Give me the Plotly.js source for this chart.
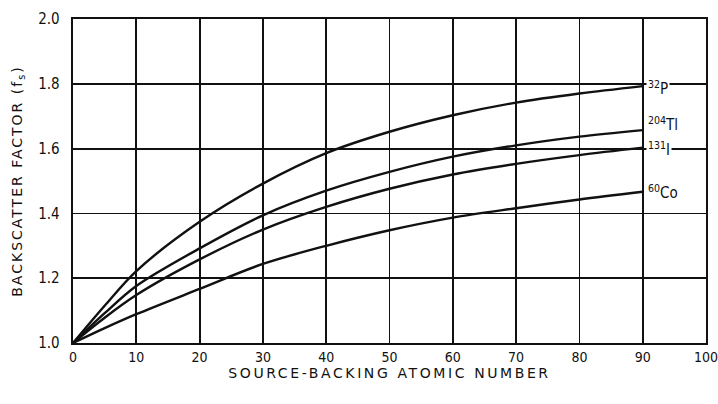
<!DOCTYPE html>
<html>
<head>
<meta charset="utf-8">
<script src="https://cdn.plot.ly/plotly-3.0.1.min.js"></script>
<style>
html,body{margin:0;padding:0;background:#fff;}
#chart{width:718px;height:404px;}
.xtitle{letter-spacing:2.6px;}
.ytitle{letter-spacing:2px;}
</style>
</head>
<body>
<div id="chart"></div>
<script>
// Source-backing atomic number
const atomicNumber = [0, 5, 10, 20, 30, 40, 50, 60, 70, 80, 90];
// Backscatter factor for each source
const p32   = [1.00, 1.115, 1.222, 1.374, 1.492, 1.586, 1.652, 1.703, 1.742, 1.770, 1.793];
const tl204 = [1.00, 1.092, 1.176, 1.292, 1.394, 1.470, 1.528, 1.575, 1.610, 1.637, 1.657];
const i131  = [1.00, 1.078, 1.148, 1.258, 1.350, 1.420, 1.476, 1.520, 1.553, 1.580, 1.603];
const co60  = [1.00, 1.046, 1.089, 1.167, 1.244, 1.300, 1.348, 1.387, 1.416, 1.443, 1.467];
const seriesNames = ["<sup>32</sup>P", "<sup>204</sup>Tl", "<sup>131</sup>I", "<sup>60</sup>Co"];
const xTicks = [0, 10, 20, 30, 40, 50, 60, 70, 80, 90, 100];
const yTicks = [1.0, 1.2, 1.4, 1.6, 1.8, 2.0];

const allSeries = [p32, tl204, i131, co60];
const lineStyle = {color: "#111", width: 2.4, shape: "spline", smoothing: 0.9};
const traces = allSeries.map((ys, i) => ({
  x: atomicNumber, y: ys, type: "scatter", mode: "lines",
  name: seriesNames[i], line: lineStyle, showlegend: false, hoverinfo: "skip"
}));

const labelYOffset = [-0.005, 0.02, -0.005, 0.0];
const annotations = allSeries.map((ys, i) => ({
  x: atomicNumber[atomicNumber.length - 1], y: ys[ys.length - 1] + labelYOffset[i],
  xref: "x", yref: "y", text: seriesNames[i], showarrow: false,
  xanchor: "left", yanchor: "middle", xshift: 3,
  bgcolor: "#fff", borderpad: 1,
  font: {family: "DejaVu Sans Condensed", size: 15, color: "#111"}
}));

const layout = {
  width: 718, height: 404,
  margin: {l: 73, r: 12, t: 19, b: 61},
  paper_bgcolor: "#fff", plot_bgcolor: "#fff",
  font: {family: "DejaVu Sans Condensed", color: "#111"},
  xaxis: {
    range: [0, 100], tickvals: xTicks, ticktext: xTicks.map(String),
    showgrid: true, gridcolor: "#111", gridwidth: 1.8,
    zeroline: false, showline: true, linecolor: "#111", linewidth: 2.4, mirror: true,
    ticks: "", ticklabeloverflow: "allow", ticklabelstandoff: 0,
    tickfont: {size: 14, color: "#111"},
    title: {text: "SOURCE-BACKING ATOMIC NUMBER", font: {family: "DejaVu Sans", size: 14, color: "#111"}, standoff: 0}
  },
  yaxis: {
    range: [1.0, 2.0], tickvals: yTicks, ticktext: yTicks.map(v => v.toFixed(1)),
    showgrid: true, gridcolor: "#111", gridwidth: 1.8,
    zeroline: false, showline: true, linecolor: "#111", linewidth: 2.4, mirror: true,
    ticks: "", ticklabelstandoff: 8,
    tickfont: {size: 15, color: "#111"},
    title: {text: "BACKSCATTER FACTOR (f<sub>s</sub>)", font: {family: "DejaVu Sans", size: 14, color: "#111"}, standoff: 12}
  },
  annotations: annotations
};

Plotly.newPlot("chart", traces, layout, {staticPlot: true, displayModeBar: false});
</script>
</body>
</html>
